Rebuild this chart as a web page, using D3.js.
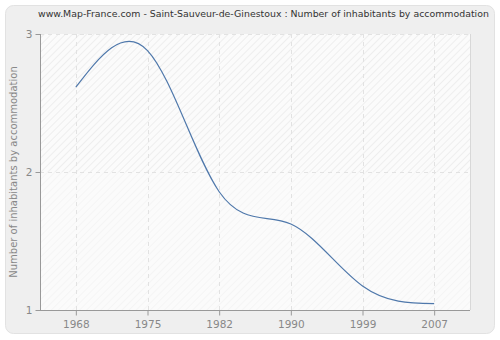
<!DOCTYPE html>
<html><head><meta charset="utf-8">
<script src="https://cdn.jsdelivr.net/npm/d3@7/dist/d3.min.js"></script>
<style>body{margin:0;background:#fff}svg{display:block}</style>
</head><body>
<svg id="c" width="500" height="340"></svg>
<script>
const years = ["1968","1975","1982","1990","1999","2007"];
const values = [2.615, 2.88, 1.857, 1.623, 1.174, 1.046];
const yTicks = [1, 2, 3];
const title = "www.Map-France.com - Saint-Sauveur-de-Ginestoux : Number of inhabitants by accommodation";
const yLabel = "Number of inhabitants by accommodation";

const svg = d3.select("#c");
const font = "DejaVu Sans, Verdana, sans-serif";
const L = 40, R = 470, T = 34, B = 310;

const defs = svg.append("defs");
const p1 = defs.append("pattern").attr("id","h1").attr("patternUnits","userSpaceOnUse")
  .attr("width",5).attr("height",5).attr("patternTransform","rotate(45)");
p1.append("rect").attr("width",5).attr("height",5).attr("fill","#fbfbfb");
p1.append("line").attr("x1",0).attr("y1",0).attr("x2",0).attr("y2",5).attr("stroke","#e9e9e9").attr("stroke-width",1.4);
const p2 = defs.append("pattern").attr("id","h2").attr("patternUnits","userSpaceOnUse")
  .attr("width",5).attr("height",5).attr("patternTransform","rotate(45)");
p2.append("rect").attr("width",5).attr("height",5).attr("fill","#fbfbfb");
p2.append("line").attr("x1",0).attr("y1",0).attr("x2",0).attr("y2",5).attr("stroke","#f3f3f3").attr("stroke-width",1.4);

svg.append("rect").attr("x",5.5).attr("y",5.5).attr("width",489).attr("height",328).attr("rx",8)
  .attr("fill","#efefef").attr("stroke","#e2e2e2");

const x = d3.scalePoint().domain(years).range([L, R]).padding(0.5);
const y = d3.scaleLinear().domain([1, 3]).range([B, T]);

svg.append("rect").attr("x",L).attr("y",T).attr("width",R-L).attr("height",y(2)-T).attr("fill","url(#h1)");
svg.append("rect").attr("x",L).attr("y",y(2)).attr("width",R-L).attr("height",B-y(2)).attr("fill","url(#h2)");
svg.append("line").attr("x1",R+0.5).attr("x2",R+0.5).attr("y1",T).attr("y2",B).attr("stroke","#d8d8d8");

// grid
const g = svg.append("g").attr("stroke","#e2e2e2").attr("stroke-dasharray","4,4");
years.forEach(d => g.append("line").attr("x1",Math.round(x(d))+0.5).attr("x2",Math.round(x(d))+0.5).attr("y1",T).attr("y2",B));
yTicks.forEach(d => g.append("line").attr("x1",L).attr("x2",R).attr("y1",Math.round(y(d))+0.5).attr("y2",Math.round(y(d))+0.5));

// line
const line = d3.line().x((d,i)=>x(years[i])).y(d=>y(d)).curve(d3.curveNatural);
svg.append("path").datum(values).attr("d",line).attr("fill","none").attr("stroke","#4f78ab").attr("stroke-width",1.2);

// axes
const xa = svg.append("g").attr("transform",`translate(0,${B+0.5})`)
  .call(d3.axisBottom(x).tickSize(5).tickPadding(5));
const ya = svg.append("g").attr("transform",`translate(${L+0.5},0)`)
  .call(d3.axisLeft(y).tickValues(yTicks).tickFormat(d3.format("d")).tickSize(5).tickPadding(3));
[xa, ya].forEach(a => {
  a.select(".domain").attr("stroke","#999");
  a.selectAll(".tick line").attr("stroke","#999");
  a.selectAll("text").attr("fill","#888").style("font-family",font).style("font-size","10.5px");
});
xa.select(".domain").attr("d",`M${L},0H${R}`);
ya.select(".domain").attr("d",`M0,${T}V${B}`);

const tt = svg.append("text").attr("x",38).attr("y",17).text(title)
  .style("font-family",font).style("font-size","10px").attr("fill","#333");
const w = tt.node().getComputedTextLength();
tt.style("font-size", (10 * 452 / w).toFixed(2) + "px");
svg.append("text").attr("transform",`translate(17,${(T+B)/2}) rotate(-90)`).attr("text-anchor","middle")
  .text(yLabel).style("font-family",font).style("font-size","10px").attr("fill","#888");
</script>
</body></html>
